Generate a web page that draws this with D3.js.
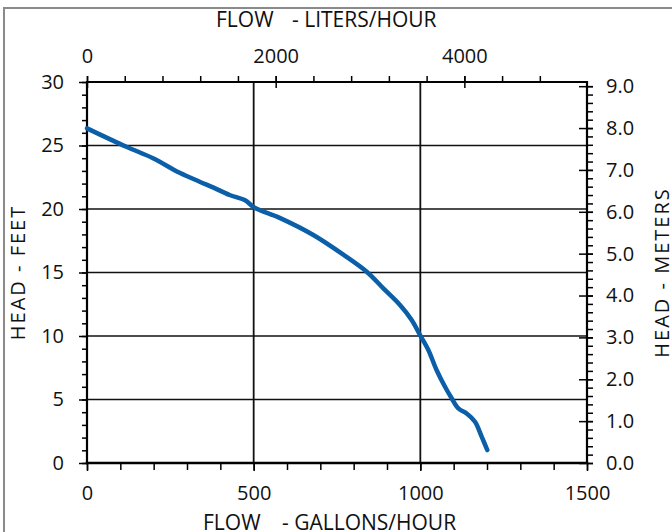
<!DOCTYPE html>
<html>
<head>
<meta charset="utf-8">
<script src="https://cdn.jsdelivr.net/npm/d3@7"></script>
<style>
  html, body { margin: 0; padding: 0; background: #fff; }
  svg { display: block; }
  text { font-family: "Open Sans", "Noto Sans", sans-serif; fill: #111; }
</style>
</head>
<body>
<svg id="chart" width="672" height="532"></svg>
<script>
// ---- data ----
const flowGal = [0, 118, 198, 278, 338, 378, 428, 473, 503, 578, 679, 769, 839, 889, 939, 974, 999, 1024, 1049, 1074, 1094, 1114, 1139, 1164, 1184, 1201];
const headFt  = [26.35, 24.9, 24.0, 22.85, 22.15, 21.7, 21.1, 20.7, 20.1, 19.3, 17.95, 16.4, 15.06, 13.75, 12.44, 11.26, 10.08, 8.9, 7.3, 6.0, 5.1, 4.3, 3.9, 3.25, 2.07, 1.02];

const galTicks = [0, 500, 1000, 1500];
const literTicks = [0, 2000, 4000];
const feetTicks = [0, 5, 10, 15, 20, 25, 30];
const meterTicks = [0, 1, 2, 3, 4, 5, 6, 7, 8, 9];
const galGrid = [500, 1000];
const feetGrid = [5, 10, 15, 20, 25];

const titleTop = ["FLOW", "- LITERS/HOUR"];
const titleBottom = ["FLOW", "- GALLONS/HOUR"];
const titleLeft = "HEAD - FEET";
const titleRight = "HEAD - METERS";

// ---- layout ----
const L = 87, R = 587, T = 82, B = 463;
const svg = d3.select("#chart");

const x = d3.scaleLinear().domain([0, 1500]).range([L, R]);
const xL = d3.scaleLinear().domain([0, 5300]).range([L, R]);
const y = d3.scaleLinear().domain([0, 30]).range([B, T]);
const yM = d3.scaleLinear().domain([0, 9.1]).range([B, T]);

// outer border
svg.append("rect").attr("x", 4).attr("y", 8).attr("width", 720).attr("height", 600)
  .attr("fill", "none").attr("stroke", "#8a8a8a").attr("stroke-width", 2);

// gridlines
svg.append("g").selectAll("line").data(feetGrid).join("line")
  .attr("x1", L).attr("x2", R).attr("y1", d => y(d)).attr("y2", d => y(d))
  .attr("stroke", "#111").attr("stroke-width", 1.5);
svg.append("g").selectAll("line").data(galGrid).join("line")
  .attr("y1", T).attr("y2", B).attr("x1", d => x(d)).attr("x2", d => x(d))
  .attr("stroke", "#111").attr("stroke-width", 1.8);

const fs = 20;
const tfs = 21;
function styleAxis(g) {
  g.select(".domain").remove();
  g.selectAll(".tick line").attr("stroke", "#000").attr("stroke-width", 1.5);
  g.selectAll("text").attr("font-size", fs).attr("fill", "#111")
    .attr("font-family", '"Open Sans", sans-serif');
}

// left axis minor + major
svg.append("g").attr("transform", `translate(${L},0)`)
  .call(d3.axisLeft(y).tickValues(d3.range(0, 31, 1)).tickSize(5).tickFormat(""))
  .call(styleAxis);
svg.append("g").attr("transform", `translate(${L},0)`)
  .call(d3.axisLeft(y).tickValues(feetTicks).tickSize(8).tickPadding(15).tickFormat(d3.format("d")))
  .call(styleAxis);

// bottom axis
svg.append("g").attr("transform", `translate(0,${B})`)
  .call(d3.axisBottom(x).tickValues(d3.range(0, 1501, 100)).tickSize(7).tickFormat(""))
  .call(styleAxis);
svg.append("g").attr("transform", `translate(0,${B})`)
  .call(d3.axisBottom(x).tickValues(galTicks).tickSize(8).tickFormat(d3.format("d")))
  .call(styleAxis)
  .call(g => g.selectAll("text").attr("y", 37).attr("dy", 0));

// top axis
svg.append("g").attr("transform", `translate(0,${T})`)
  .call(d3.axisTop(xL).tickValues(d3.range(0, 4801, 400)).tickSize(6).tickFormat(""))
  .call(styleAxis);
svg.append("g").attr("transform", `translate(0,${T})`)
  .call(d3.axisTop(xL).tickValues(literTicks).tickSize(6).tickFormat(d3.format("d")))
  .call(styleAxis)
  .call(g => g.selectAll(".tick line").attr("y1", 6))
  .call(g => g.selectAll("text").attr("y", -19).attr("dy", 0));

// right axis
svg.append("g").attr("transform", `translate(${R},0)`)
  .call(d3.axisRight(yM).tickValues(d3.range(0, 46).map(i => i * 0.2)).tickSize(6).tickFormat(""))
  .call(styleAxis);
svg.append("g").attr("transform", `translate(${R},0)`)
  .call(d3.axisRight(yM).tickValues(meterTicks).tickSize(6).tickPadding(13).tickFormat(d3.format(".1f")))
  .call(styleAxis)
  .call(g => g.selectAll(".tick line").attr("x1", -8));

// axis frame lines
const frame = svg.append("g").attr("stroke", "#000").attr("stroke-linecap", "square");
frame.append("line").attr("x1", L).attr("x2", R).attr("y1", T).attr("y2", T).attr("stroke-width", 2);
frame.append("line").attr("x1", L).attr("x2", R).attr("y1", B).attr("y2", B).attr("stroke-width", 2.6);
frame.append("line").attr("x1", L).attr("x2", L).attr("y1", T).attr("y2", B).attr("stroke-width", 2.2);
frame.append("line").attr("x1", R).attr("x2", R).attr("y1", T).attr("y2", B).attr("stroke-width", 2.2);

// curve
const pts = flowGal.map((g, i) => [g, headFt[i]]);
svg.append("path").datum(pts)
  .attr("d", d3.line().x(d => x(d[0])).y(d => y(d[1])).curve(d3.curveCatmullRom.alpha(0.5)))
  .attr("fill", "none").attr("stroke", "#0b5ea8").attr("stroke-width", 4.5)
  .attr("stroke-linecap", "round").attr("stroke-linejoin", "round");

// titles
const tt = svg.append("text").attr("y", 27).attr("font-size", tfs);
tt.append("tspan").attr("x", 216).text(titleTop[0]);
tt.append("tspan").attr("x", 292).text(titleTop[1]);
const tb = svg.append("text").attr("y", 530).attr("font-size", tfs);
tb.append("tspan").attr("x", 203).text(titleBottom[0]);
tb.append("tspan").attr("x", 282).text(titleBottom[1]);
svg.append("text").attr("transform", `translate(25,${(T + B) / 2}) rotate(-90)`)
  .attr("text-anchor", "middle").attr("font-size", fs).attr("letter-spacing", 2)
  .text(titleLeft);
svg.append("text").attr("transform", `translate(669,${(T + B) / 2}) rotate(-90)`)
  .attr("text-anchor", "middle").attr("font-size", fs).attr("letter-spacing", 2)
  .text(titleRight);
</script>
</body>
</html>
